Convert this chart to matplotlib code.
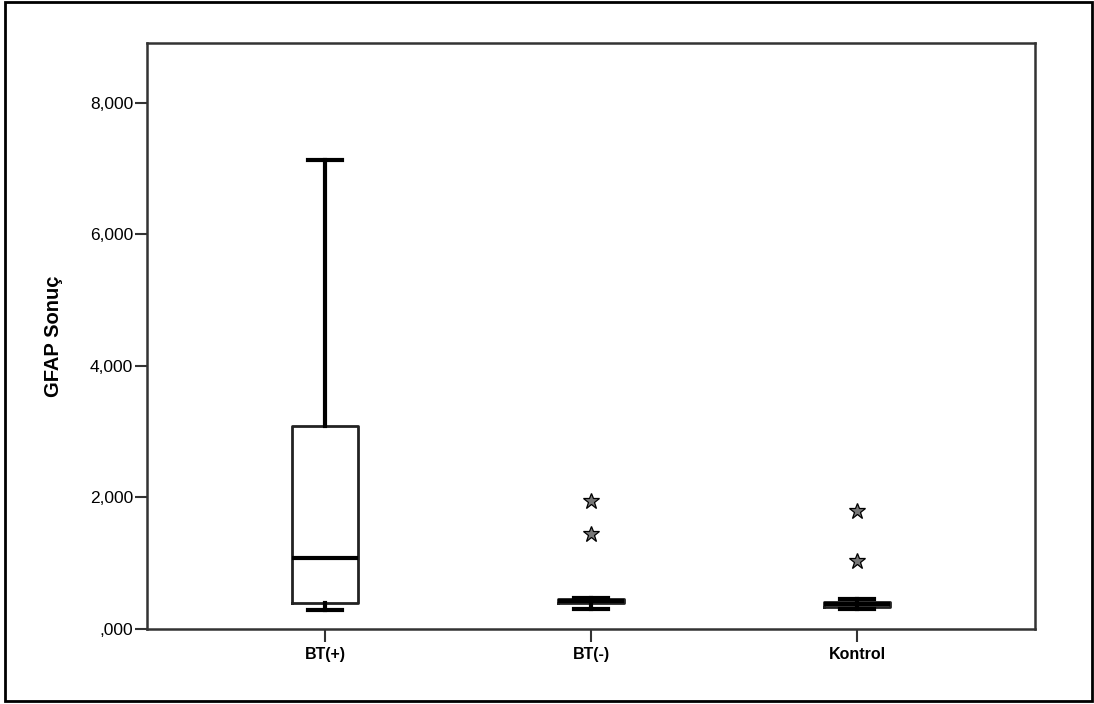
import matplotlib.pyplot as plt
from matplotlib.patches import Rectangle
from matplotlib.ticker import FuncFormatter

# GFAP results per group (box summary values)
groups = ['BT(+)', 'BT(-)', 'Kontrol']
whisker_low = [0.29, 0.30, 0.30]
q1 = [0.395, 0.39, 0.34]
median = [1.075, 0.42, 0.38]
q3 = [3.09, 0.45, 0.41]
whisker_high = [7.13, 0.47, 0.46]
outliers = [[], [1.95, 1.45], [1.80, 1.03]]

plt.rcParams['font.family'] = ['Liberation Sans', 'DejaVu Sans']

fig = plt.figure(figsize=(10.94, 7.04), dpi=100)
ax = fig.add_axes([147 / 1094, 1 - 629 / 704, 888 / 1094, 586 / 704])

stats = []
for i, g in enumerate(groups):
    stats.append({'label': g, 'whislo': whisker_low[i], 'q1': q1[i], 'med': median[i],
                  'q3': q3[i], 'whishi': whisker_high[i], 'fliers': outliers[i]})

ax.bxp(stats, positions=[1, 2, 3], widths=0.25, capwidths=0.13,
       boxprops=dict(color='#222222', linewidth=2),
       whiskerprops=dict(color='black', linewidth=3),
       capprops=dict(color='black', linewidth=3),
       medianprops=dict(color='black', linewidth=3),
       flierprops=dict(marker='*', markersize=12, markerfacecolor='#777777',
                       markeredgecolor='black', markeredgewidth=0.9))

ax.set_xlim(0.331, 3.669)
ax.set_ylim(0, 8.91)
ax.set_yticks([0, 2, 4, 6, 8])


def tr_fmt(v, pos):
    s = f'{v:.3f}'.replace('.', ',')
    return s[1:] if s.startswith('0') else s


ax.yaxis.set_major_formatter(FuncFormatter(tr_fmt))
ax.set_xticks([1, 2, 3])
ax.set_xticklabels(groups, fontweight='bold', fontsize=11.5)
ax.tick_params(axis='y', labelsize=12.5, length=9, width=1.5, color='#333333', pad=1)
ax.tick_params(axis='x', length=9, width=1.5, color='#333333', pad=4)
ax.set_ylabel('GFAP Sonuç', fontsize=14.5, fontweight='bold', labelpad=19)

for side in ax.spines.values():
    side.set_linewidth(1.8)
    side.set_color('#333333')

# outer frame around the whole figure
fig.patches.append(Rectangle((5 / 1094, 3 / 704), 1087 / 1094, 699 / 704,
                             transform=fig.transFigure, fill=False,
                             edgecolor='black', linewidth=2))

fig.savefig('out.png', dpi=100)
